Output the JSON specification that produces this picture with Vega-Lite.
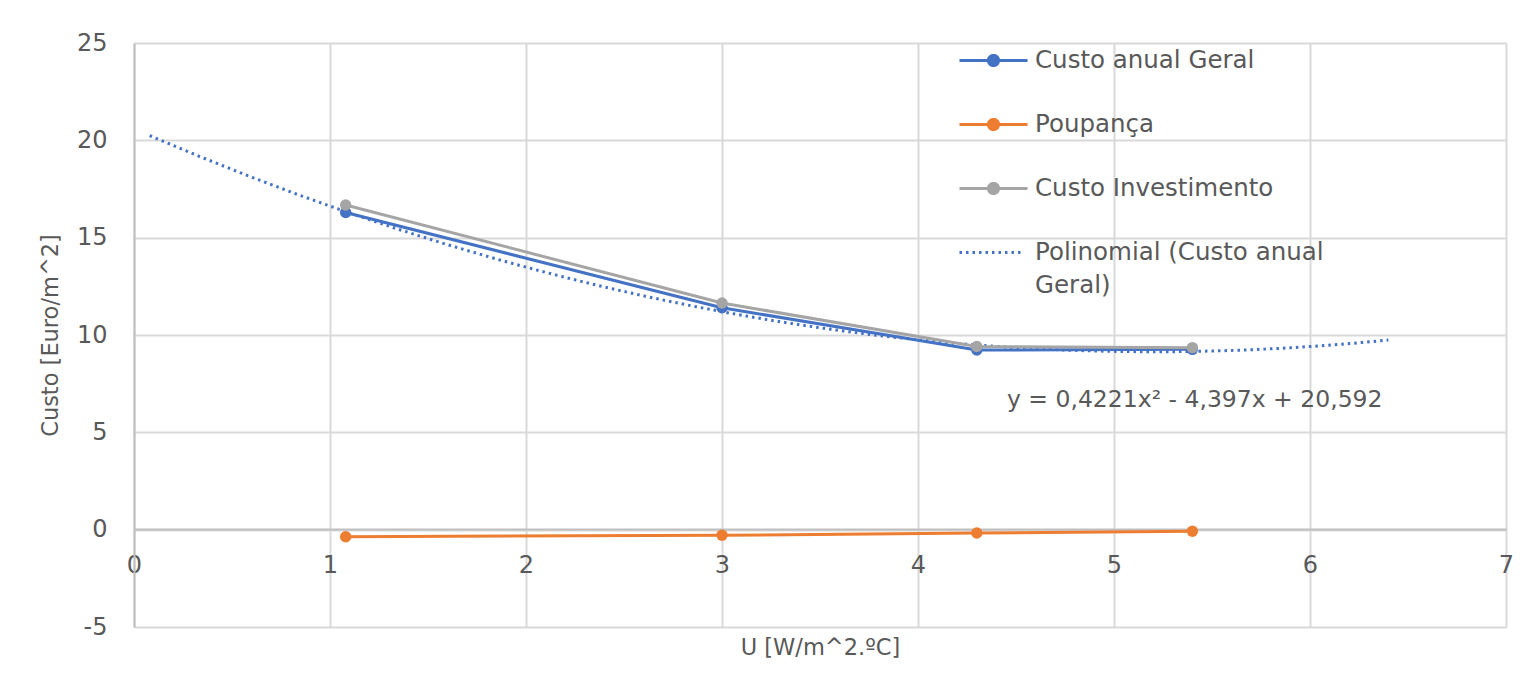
{
  "$schema": "https://vega.github.io/schema/vega-lite/v6.json",
  "width": 1372,
  "height": 584,
  "autosize": {"type": "none"},
  "padding": {"left": 134, "top": 43, "right": 31, "bottom": 58},
  "background": "white",
  "config": {
    "font": "DejaVu Sans",
    "view": {"stroke": null},
    "axis": {
      "labelFont": "DejaVu Sans",
      "titleFont": "DejaVu Sans",
      "labelColor": "#595959",
      "titleColor": "#595959",
      "labelFontSize": 24,
      "titleFontSize": 22.5,
      "titleFontWeight": "normal",
      "gridColor": "#D9D9D9",
      "gridWidth": 2,
      "domainColor": "#BFBFBF",
      "domainWidth": 2,
      "ticks": false,
      "labelExpr": "'' + datum.value"
    }
  },
  "datasets": {
    "series": [
      {"U": 1.08, "serie": "Custo anual Geral", "v": 16.291},
      {"U": 3.0, "serie": "Custo anual Geral", "v": 11.4},
      {"U": 4.3, "serie": "Custo anual Geral", "v": 9.225},
      {"U": 5.4, "serie": "Custo anual Geral", "v": 9.263},
      {"U": 1.08, "serie": "Poupança", "v": -0.36},
      {"U": 3.0, "serie": "Poupança", "v": -0.29},
      {"U": 4.3, "serie": "Poupança", "v": -0.17},
      {"U": 5.4, "serie": "Poupança", "v": -0.08},
      {"U": 1.08, "serie": "Custo Investimento", "v": 16.68},
      {"U": 3.0, "serie": "Custo Investimento", "v": 11.64},
      {"U": 4.3, "serie": "Custo Investimento", "v": 9.41},
      {"U": 5.4, "serie": "Custo Investimento", "v": 9.35}
    ],
    "eq": [
      {"U": 6.37, "v": 6.68, "label": "y = 0,4221x² - 4,397x + 20,592"}
    ]
  },
  "layer": [
    {
      "data": {"name": "series"},
      "transform": [{"filter": "datum.serie === 'Custo anual Geral'"}, {"regression": "v", "on": "U", "method": "poly", "order": 2, "extent": [0.08, 6.4]}],
      "mark": {"type": "line", "strokeWidth": 3, "strokeDash": [2.5, 4], "strokeCap": "butt"},
      "encoding": {
        "x": {"field": "U", "type": "quantitative"},
        "y": {"field": "v", "type": "quantitative"},
        "color": {"datum": "Polinomial (Custo anual Geral)"}
      }
    },
    {
      "data": {"name": "series"},
      "mark": {"type": "line", "strokeWidth": 3, "point": {"filled": true, "size": 130, "opacity": 1}},
      "encoding": {
        "x": {
          "field": "U", "type": "quantitative",
          "scale": {"domain": [0, 7], "nice": false, "zero": false},
          "axis": {
            "title": "U [W/m^2.ºC]",
            "values": [0, 1, 2, 3, 4, 5, 6, 7],
            "offset": -98,
            "labelPadding": 24,
            "domain": true,
            "titleY": 118,
            "titleBaseline": "middle",
            "labelFlush": false
          }
        },
        "y": {
          "field": "v", "type": "quantitative",
          "scale": {"domain": [-5, 25], "nice": false},
          "axis": {
            "title": "Custo [Euro/m^2]",
            "values": [-5, 0, 5, 10, 15, 20, 25],
            "labelPadding": 27,
            "titleX": -84,
            "titleY": 292,
            "titleAlign": "center",
            "titleBaseline": "middle",
            "titleAngle": -90
          }
        },
        "color": {
          "field": "serie", "type": "nominal",
          "scale": {
            "domain": ["Custo anual Geral", "Poupança", "Custo Investimento", "Polinomial (Custo anual Geral)"],
            "range": ["#4472C4", "#ED7D31", "#A5A5A5", "#4472C4"]
          },
          "legend": {
            "title": null,
            "orient": "none",
            "legendX": 824,
            "legendY": -18,
            "padding": 0,
            "symbolSize": 4624,
            "symbolStrokeWidth": 3,
            "labelFont": "DejaVu Sans",
            "labelFontSize": 24.5,
            "labelColor": "#595959",
            "labelLimit": 400,
            "labelOffset": 6,
            "rowPadding": 17,
            "labelExpr": "datum.label === 'Polinomial (Custo anual Geral)' ? ['Polinomial (Custo anual', 'Geral)'] : datum.label",
            "encode": {
              "labels": {
                "update": {
                  "lineHeight": {"value": 33}
                }
              },
              "symbols": {
                "update": {
                  "shape": {"signal": "datum.value === 'Polinomial (Custo anual Geral)' ? 'M-1,0H0.85' : 'M-1,0H1M-0.15,0A0.15,0.15,0,1,1,0.15,0A0.15,0.15,0,1,1,-0.15,0'"},
                  "fill": {"signal": "datum.value === 'Polinomial (Custo anual Geral)' ? 'transparent' : scale('color', datum.value)"},
                  "stroke": {"signal": "scale('color', datum.value)"},
                  "strokeDash": {"signal": "datum.value === 'Polinomial (Custo anual Geral)' ? [2.5, 4] : [1, 0]"},
                  "strokeWidth": {"value": 3},
                  "opacity": {"value": 1}
                }
              }
            }
          }
        }
      }
    },
    {
      "data": {"name": "eq"},
      "mark": {"type": "text", "align": "right", "baseline": "middle", "font": "DejaVu Sans", "fontSize": 23.5, "color": "#595959"},
      "encoding": {
        "x": {"field": "U", "type": "quantitative"},
        "y": {"field": "v", "type": "quantitative"},
        "text": {"field": "label"}
      }
    }
  ]
}
